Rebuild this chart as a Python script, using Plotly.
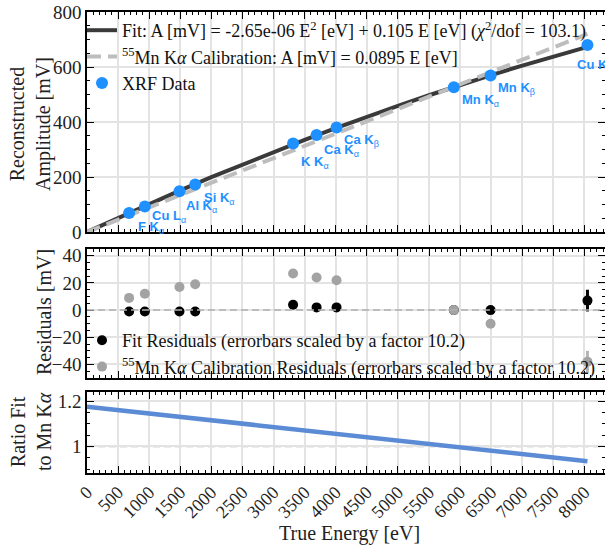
import plotly.graph_objects as go

# ---------------- data ----------------
line_names = ["F K", "Cu L", "Al K", "Si K", "K K", "Ca K", "Ca K", "Mn K", "Mn K", "Cu K"]
line_subs = ["α", "α", "α", "α", "α", "α", "β", "α", "β", "α"]
energy = [677, 930, 1487, 1740, 3314, 3692, 4013, 5899, 6490, 8048]
amplitude = [69, 93, 148, 173, 322, 353, 380, 526, 569, 680]
amplitude_err = [0.3, 0.3, 0.3, 0.3, 0.4, 0.4, 0.4, 0.3, 0.3, 0.8]

# fit curve read at regular energies
curve_energy = [0, 500, 1000, 1500, 2000, 2500, 3000, 3500, 4000, 4500, 5000,
                5500, 6000, 6500, 7000, 7500, 8000, 8048]
curve_fit = [0, 51.8, 102.4, 151.5, 199.4, 245.9, 291.2, 335.0, 377.6, 418.8,
             458.8, 497.3, 534.6, 570.5, 605.2, 638.4, 670.4, 673.4]
calib_energy = [0, 8048]
calib_amp = [0, 720.3]

fit_resid = [-1, -1, -1, -1, 4, 2, 2, 0, 0, 7]
fit_resid_err = [0.5, 0.5, 0.5, 0.5, 1.0, 1.0, 1.0, 0.5, 0.5, 8]
cal_resid = [9, 12, 17, 19, 27, 24, 22, 0, -10, -38]
cal_resid_err = [0.5, 0.5, 0.5, 0.5, 1.0, 1.0, 1.0, 0.5, 0.5, 8]

ratio_energy = [0, 8048]
ratio_val = [1.175, 0.935]

x_ticks = list(range(0, 8001, 500))

# label offsets (pixels) for the XRF line annotations
label_dx = [7, 5, 5, 7, 6, 5, 5, 6, 5, -12]
label_dy = [10, 6, 11, 10, 15, 12, 9, 9, 9, 17]

# ---------------- style ----------------
W, H = 605, 548
L = 87
PW = W - L
SERIF = "Liberation Serif, Times New Roman, serif"
SANS = "Liberation Sans, Arial, sans-serif"
BLUE = "#1E90FF"
TXT = "#222222"

def py(px):
    return 1 - px / H

def pxx(px):
    return (px - L) / PW

fig = go.Figure()

fit_name = "Fit: A [mV] = -2.65e-06 E<sup>2</sup> [eV] + 0.105 E [eV] (<i>χ</i><sup>2</sup>/dof = 103.1)"
cal_name = "<sup>55</sup>Mn K<i>α</i> Calibration: A [mV] = 0.0895 E [eV]"

fig.add_trace(go.Scatter(x=curve_energy, y=curve_fit, mode="lines", name=fit_name,
                         line=dict(color="#3a3a3a", width=4), xaxis="x", yaxis="y",
                         legend="legend"))
fig.add_trace(go.Scatter(x=calib_energy, y=calib_amp, mode="lines", name=cal_name,
                         line=dict(color="#bdbdbd", width=4, dash="14px,7px"),
                         xaxis="x", yaxis="y", legend="legend"))
fig.add_trace(go.Scatter(x=energy, y=amplitude, mode="markers", name="XRF Data",
                         marker=dict(color=BLUE, size=12),
                         error_y=dict(type="data", array=amplitude_err, color=BLUE,
                                      thickness=2, width=0),
                         xaxis="x", yaxis="y", legend="legend"))

fig.add_trace(go.Scatter(x=energy, y=fit_resid, mode="markers",
                         name="Fit Residuals (errorbars scaled by a factor 10.2)",
                         marker=dict(color="black", size=10),
                         error_y=dict(type="data", array=fit_resid_err, color="black",
                                      thickness=3, width=0),
                         xaxis="x2", yaxis="y2", legend="legend2"))
fig.add_trace(go.Scatter(x=energy, y=cal_resid, mode="markers",
                         name="<sup>55</sup>Mn K<i>α</i> Calibration Residuals (errorbars scaled by a factor 10.2)",
                         marker=dict(color="#a3a3a3", size=10),
                         error_y=dict(type="data", array=cal_resid_err, color="#b5b5b5",
                                      thickness=3, width=0),
                         xaxis="x2", yaxis="y2", legend="legend2"))

fig.add_trace(go.Scatter(x=ratio_energy, y=ratio_val, mode="lines", showlegend=False,
                         line=dict(color="#5b8bd4", width=4.5),
                         xaxis="x3", yaxis="y3"))

# annotations for XRF lines
annotations = []
for name, sub, e, a, dx, dy in zip(line_names, line_subs, energy, amplitude, label_dx, label_dy):
    annotations.append(dict(
        x=e, y=a, xref="x", yref="y",
        text=f"<b>{name}</b><sub>{sub}</sub>",
        showarrow=False, xanchor="left", yanchor="middle",
        xshift=dx, yshift=-dy - 4,
        font=dict(family=SANS, size=13, color=BLUE)))

# axis titles as annotations
title_font = dict(family=SERIF, size=20, color=TXT)
annotations += [
    dict(x=pxx(30), y=py(124), xref="paper", yref="paper", textangle=-90,
         text="Reconstructed<br>Amplitude [mV]", showarrow=False,
         xanchor="center", yanchor="middle", font=title_font),
    dict(x=pxx(44), y=py(312), xref="paper", yref="paper", textangle=-90,
         text="Residuals [mV]", showarrow=False,
         xanchor="center", yanchor="middle", font=title_font),
    dict(x=pxx(31), y=py(432), xref="paper", yref="paper", textangle=-90,
         text="Ratio Fit<br>to Mn K<i>α</i>", showarrow=False,
         xanchor="center", yanchor="middle", font=title_font),
    dict(x=pxx(349), y=py(533), xref="paper", yref="paper",
         text="True Energy [eV]", showarrow=False,
         xanchor="center", yanchor="middle", font=title_font),
]

shapes = [
    dict(type="line", xref="x2 domain", yref="y2", x0=0, x1=1, y0=0, y1=0,
         line=dict(color="#b0b0b0", width=1.5, dash="7px,4px"), layer="above"),
    dict(type="line", xref="x3 domain", yref="y3", x0=0, x1=1, y0=1, y1=1,
         line=dict(color="#b0b0b0", width=1.5, dash="7px,4px"), layer="below"),
]

XR = [0, 8330]
common_x = dict(range=XR, tickvals=x_ticks, showline=True, linecolor="black", linewidth=1.6,
                mirror="ticks", ticks="inside", ticklen=7, tickwidth=1, tickcolor="black",
                showgrid=True, gridcolor="#e3e3e3", gridwidth=1.5, zeroline=False,
                automargin=False,
                minor=dict(ticks="inside", ticklen=3.5, dtick=100, tickcolor="black",
                           showgrid=False),
                tickfont=dict(family=SERIF, size=18, color=TXT))
common_y = dict(showline=True, linecolor="black", linewidth=1.6, mirror="ticks",
                ticks="inside", ticklen=7, tickwidth=1, tickcolor="black",
                showgrid=True, gridcolor="#e3e3e3", gridwidth=1.5, zeroline=False,
                automargin=False,
                tickfont=dict(family=SERIF, size=19, color=TXT))

fig.update_layout(
    width=W, height=H,
    font=dict(family=SERIF, size=18, color=TXT),
    margin=dict(l=L, r=0, t=0, b=0, autoexpand=False),
    plot_bgcolor="white", paper_bgcolor="white",
    xaxis=dict(common_x, anchor="y", domain=[0, 1], showticklabels=False),
    xaxis2=dict(common_x, anchor="y2", domain=[0, 1], showticklabels=False, matches="x"),
    xaxis3=dict(common_x, anchor="y3", domain=[0, 1], showticklabels=True, matches="x",
                tickangle=-45),
    yaxis=dict(common_y, anchor="x", domain=[py(232), py(12)], range=[0, 800],
               tickvals=[0, 200, 400, 600, 800],
               minor=dict(ticks="inside", ticklen=3.5, dtick=50, tickcolor="black", showgrid=False)),
    yaxis2=dict(common_y, anchor="x2", domain=[py(378), py(249)], range=[-50, 45],
                tickvals=[-40, -20, 0, 20, 40],
                minor=dict(ticks="inside", ticklen=3.5, dtick=5, tickcolor="black", showgrid=False)),
    yaxis3=dict(common_y, anchor="x3", domain=[py(473), py(392)], range=[0.883, 1.24],
                tickvals=[1, 1.2], ticktext=["1", "1.2"],
                minor=dict(ticks="inside", ticklen=3.5, dtick=0.05, tickcolor="black", showgrid=False)),
    legend=dict(x=pxx(82), y=py(12), xanchor="left", yanchor="top",
                bgcolor="rgba(0,0,0,0)", font=dict(family=SERIF, size=18, color="#111"),
                tracegroupgap=0, itemwidth=30),
    legend2=dict(x=pxx(82), y=py(322), xanchor="left", yanchor="top",
                 bgcolor="rgba(0,0,0,0)", font=dict(family=SERIF, size=18, color="#111"),
                 tracegroupgap=0, itemwidth=30),
    annotations=annotations,
    shapes=shapes,
)

fig.write_html("out.html")
